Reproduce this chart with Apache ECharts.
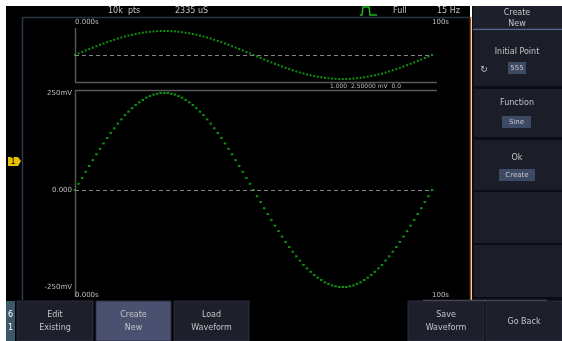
<!DOCTYPE html>
<html><head><meta charset="utf-8">
<script src="https://cdn.jsdelivr.net/npm/echarts@6/dist/echarts.min.js"></script>
<style>html,body{margin:0;padding:0;background:#fff}#c{width:562px;height:341px}</style>
</head><body><div id="c"></div><script>
// ---- data ----
const timeSec=[0,1,2,3,4,5,6,7,8,9,10,11,12,13,14,15,16,17,18,19,20,21,22,23,24,25,26,27,28,29,30,31,32,33,34,35,36,37,38,39,40,41,42,43,44,45,46,47,48,49,50,51,52,53,54,55,56,57,58,59,60,61,62,63,64,65,66,67,68,69,70,71,72,73,74,75,76,77,78,79,80,81,82,83,84,85,86,87,88,89,90,91,92,93,94,95,96,97,98,99,100];
const voltage_mV=[0,16,31,47,62,77,92,106,120,134,147,159,171,182,193,202,211,219,226,232,238,242,246,248,250,250,250,248,246,242,238,232,226,219,211,202,193,182,171,159,147,134,120,106,92,77,62,47,31,16,0,-16,-31,-47,-62,-77,-92,-106,-120,-134,-147,-159,-171,-182,-193,-202,-211,-219,-226,-232,-238,-242,-246,-248,-250,-250,-250,-248,-246,-242,-238,-232,-226,-219,-211,-202,-193,-182,-171,-159,-147,-134,-120,-106,-92,-77,-62,-47,-31,-16,0];
const yTickValues=[-250,0,250];
const yTickLabels=['-250mV','0.000','250mV'];
const xTickValues=[0,100];
const xTickLabels=['0.000s','100s'];
const statusTexts=['10k  pts','2335 uS','Full','15 Hz'];
const infoText='1.000  2.50000 mV  0.0';
const menuTitle='Create\nNew';
const menuItems=[['Initial Point','555'],['Function','Sine'],['Ok','Create']];
const bottomButtons=['Edit\nExisting','Create\nNew','Load\nWaveform','Save\nWaveform','Go Back'];

// ---- chart ----
const pts=timeSec.map((t,i)=>[t,voltage_mV[i]]);
const TXT='#c4c4c4', FONT='DejaVu Sans';
const g=[];
function rect(x,y,w,h,fill,extra){g.push(Object.assign({type:'rect',shape:{x,y,width:w,height:h},style:{fill},silent:true},extra||{}));}
function line(x1,y1,x2,y2,stroke,w,z){g.push({type:'line',shape:{x1,y1,x2,y2},style:{stroke,lineWidth:w||1},silent:true,z:z||0});}
function text(x,y,t,size,fill,align,extra){g.push(Object.assign({type:'text',x,y,style:{text:t,fill:fill||TXT,font:(size||8)+'px '+FONT,textAlign:align||'left',textVerticalAlign:'middle',lineHeight:13},silent:true,z:5},extra||{}));}

// screen background
rect(6,6,464,294,'#000');
line(22.5,17,22.5,300,'#2b3a48',1.5);
line(22,17.5,470,17.5,'#2b3440',1.5);
line(470.5,17,470.5,300,'#9a500e',1.5);
// status bar
text(108,11,statusTexts[0],8);
text(175,11,statusTexts[1],8);
g.push({type:'polyline',shape:{points:[[360,15],[362,15],[363,7],[369,7],[370,15],[377,15]]},style:{stroke:'#1fb51f',lineWidth:1.5,fill:null},silent:true,z:5});
text(393,11,statusTexts[2],8);
text(437,11,statusTexts[3],8);
text(517,4,'2023-10-10 15:35:21',8,'#aaa','center');
rect(470,0,92,6,'#fff',{z:6});
// plot frames
line(75.5,28,75.5,82,'#555',1.5);
line(75,82.5,437,82.5,'#5a5a5a',1.5);
line(75,90.5,437,90.5,'#5a5a5a',1.5);
line(75.5,90,75.5,297,'#555',1.5);
text(330,86.5,infoText,6,'#bbb');
// channel marker
g.push({type:'polygon',shape:{points:[[8,157],[18,157],[21,161],[18,166],[8,166]]},style:{fill:'#e6c000'},silent:true,z:5});
text(13,161.5,'1',8,'#000','center');
// right menu
rect(472,6,90,294,'#0c0c14');
rect(473,6,89,23,'#1d1f2b');
text(517,13,'Create',8,TXT,'center');
text(517,24,'New',8,TXT,'center');
line(473,29.5,562,29.5,'#56668a',1.5);
const secs=[[31,55],[89,48],[140,50],[192,51],[245,52]];
secs.forEach(s=>rect(474,s[0],88,s[1],'#1b1d29'));
text(517,52,menuItems[0][0],8,TXT,'center');
text(484,69.5,'\u21bb',9,TXT,'center');
rect(508,62,18,12,'#3c4a66');
text(517,68,menuItems[0][1],7,TXT,'center');
text(517,103,menuItems[1][0],8,TXT,'center');
rect(502,116,29,12,'#3c4a66');
text(516.5,122,menuItems[1][1],7,TXT,'center');
text(517,158,menuItems[2][0],8,TXT,'center');
rect(499,169,36,12,'#3c4a66');
text(517,175,menuItems[2][1],7,TXT,'center');
// bottom bar
rect(6,300,556,41,'#000');
line(423,300.5,547,300.5,'#5a5a5a',1.5);
rect(6,301,9,40,'#3a5868');
text(10.5,315,'6',8,'#fff','center');
text(10.5,328,'1',8,'#fff','center');
const bx=[[17,76],[96,75],[174,75],[408,76],[486,76]];
bx.forEach((b,i)=>{
  rect(b[0],301,b[1],40,i===1?'#4a5070':'#1d1f2b',{style:{fill:i===1?'#4a5070':'#1d1f2b',stroke:'#2c2f40',lineWidth:1}});
  text(b[0]+b[1]/2,i===4?322:321.5,bottomButtons[i],8,TXT,'center');
});

const lbl={color:'#bdbdbd',fontSize:7,fontFamily:FONT};
const option={
  animation:false,
  backgroundColor:'#fff',
  graphic:{elements:g},
  grid:[
    {left:75,top:31,width:357,height:48,show:false},
    {left:75,top:93,width:357,height:194,show:false}
  ],
  xAxis:[
    {gridIndex:0,type:'value',min:0,max:100,position:'top',axisLine:{show:false},axisTick:{show:false},splitLine:{show:false},
     axisLabel:Object.assign({customValues:xTickValues,formatter:v=>xTickLabels[xTickValues.indexOf(v)],align:'left',margin:5},lbl)},
    {gridIndex:1,type:'value',min:0,max:100,position:'bottom',axisLine:{show:false},axisTick:{show:false},splitLine:{show:false},
     axisLabel:Object.assign({customValues:xTickValues,formatter:v=>xTickLabels[xTickValues.indexOf(v)],align:'left',margin:5},lbl)}
  ],
  yAxis:[
    {gridIndex:0,type:'value',min:-250,max:250,axisLine:{show:false},axisTick:{show:false},splitLine:{show:false},axisLabel:{show:false}},
    {gridIndex:1,type:'value',min:-250,max:250,axisLine:{show:false},axisTick:{show:false},splitLine:{show:false},
     axisLabel:Object.assign({customValues:yTickValues,formatter:v=>yTickLabels[yTickValues.indexOf(v)],margin:3},lbl)}
  ],
  series:[
    {type:'scatter',xAxisIndex:0,yAxisIndex:0,data:pts,symbol:'rect',symbolSize:[2,2],itemStyle:{color:'#14b414'},silent:true,
     markLine:{silent:true,symbol:['none','none'],label:{show:false},lineStyle:{color:'#858585',type:[4,3],width:1},data:[{yAxis:0}]}},
    {type:'scatter',xAxisIndex:1,yAxisIndex:1,data:pts,symbol:'rect',symbolSize:[2.5,2],itemStyle:{color:'#14b414'},silent:true,
     markLine:{silent:true,symbol:['none','none'],label:{show:false},lineStyle:{color:'#858585',type:[4,3],width:1},data:[{yAxis:0}]}}
  ]
};
echarts.init(document.getElementById('c'),null,{renderer:'canvas'}).setOption(option);
</script></body></html>
